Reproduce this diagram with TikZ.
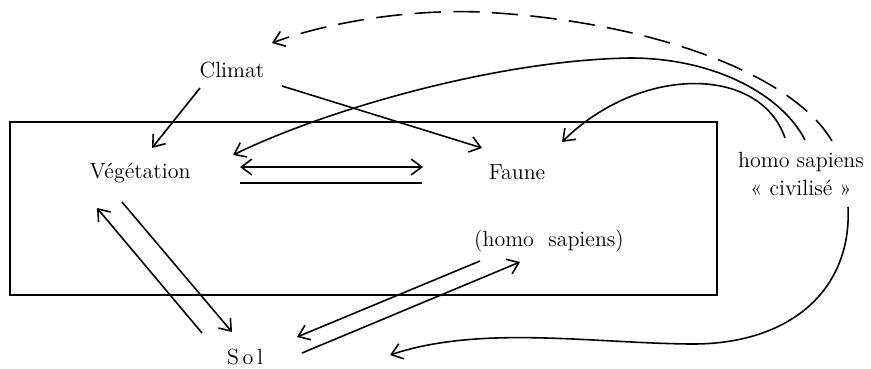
\documentclass[tikz,border=0pt]{standalone}
\usetikzlibrary{arrows.meta}

\tikzset{
  lab/.style={font=\fontsize{12.5}{15.5}\selectfont, inner sep=2pt},
  fl/.style={-{Straight Barb[length=6pt,width=9pt]}},
  dfl/.style={{Straight Barb[length=6pt,width=9pt]}-{Straight Barb[length=6pt,width=9pt]}},
}

\begin{document}
\begin{tikzpicture}[x=0.02cm, y=-0.02cm, line width=0.9pt]
  \useasboundingbox (0,0) rectangle (871,368);

  % --- cadre ---
  \draw (10,122) rectangle (717,295);

  % --- textes ---
  \node[lab] (clim)  at (232,70)  {Climat};
  \node[lab] (veg)   at (140,173) {Végétation};
  \node[lab] (faune) at (517,172) {Faune};
  \node[lab] (hs)    at (549,241) {(homo\ \ sapiens)};
  \node[lab, align=center] (hsc) at (801,174) {homo sapiens\\« civilisé »};
  \node[lab] (sol)   at (245,357) {S\,o\,l};

  % --- points d'attache ---
  \coordinate (clim-v) at (200,88);   \coordinate (veg-c) at (152,148);
  \coordinate (clim-f) at (282,86);   \coordinate (faune-c) at (482,148);
  \coordinate (veg-f1) at (240,167);  \coordinate (faune-v1) at (423,167);
  \coordinate (veg-f2) at (240,183);  \coordinate (faune-v2) at (422,183);
  \coordinate (veg-s)  at (122,202);  \coordinate (sol-v)  at (232,332);
  \coordinate (sol-v2) at (202,333);  \coordinate (veg-s2) at (97,208);
  \coordinate (hs-s)   at (480,261);  \coordinate (sol-h)  at (297,337);
  \coordinate (sol-h2) at (302,353);  \coordinate (hs-s2)  at (520,262);
  \coordinate (hsc-1)  at (785,138);  \coordinate (faune-h) at (562,142);
  \coordinate (hsc-2)  at (805,140);  \coordinate (veg-h) at (233,155);
  \coordinate (hsc-3)  at (832,141);  \coordinate (clim-h) at (272,43);
  \coordinate (hsc-4)  at (848,207);  \coordinate (sol-hc) at (390,355);

  % --- Climat ---
  \draw[fl] (clim-v) -- (veg-c);
  \draw[fl] (clim-f) -- (faune-c);

  % --- Végétation / Faune ---
  \draw[dfl] (veg-f1) -- (faune-v1);
  \draw (veg-f2) -- (faune-v2);

  % --- Végétation / Sol ---
  \draw[fl] (veg-s) -- (sol-v);
  \draw[fl] (sol-v2) -- (veg-s2);

  % --- (homo sapiens) / Sol ---
  \draw[fl] (hs-s) -- (sol-h);
  \draw[fl] (sol-h2) -- (hs-s2);

  % --- homo sapiens << civilise >> ---
  \draw[fl] (hsc-1) .. controls (760,65) and (640,65) .. (faune-h);
  \draw[fl] (hsc-2) .. controls (782,95) and (715,58) .. (630,58)
                    .. controls (500,60) and (330,108) .. (veg-h);
  \draw[fl, dash pattern=on 15pt off 7pt] (hsc-3) .. controls (790,70) and (640,20) .. (480,12)
                    .. controls (400,9) and (320,25) .. (clim-h);
  \draw[fl] (hsc-4) .. controls (852,290) and (790,345) .. (690,344)
                    .. controls (590,343) and (480,325) .. (sol-hc);

\end{tikzpicture}
\end{document}
